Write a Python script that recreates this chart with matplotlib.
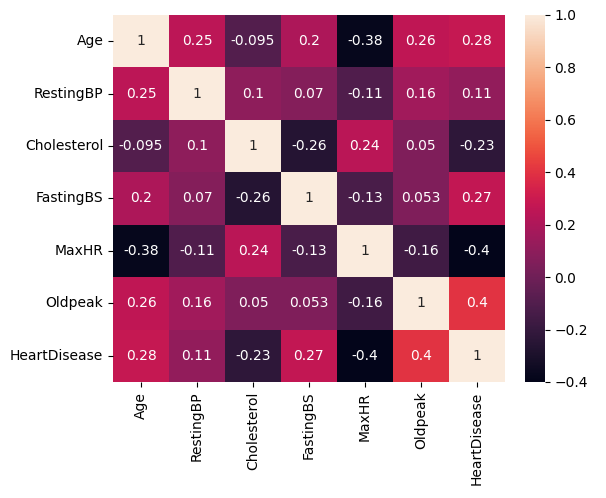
import matplotlib
matplotlib.use("Agg")
import matplotlib.pyplot as plt
import seaborn as sns
import numpy as np
import pandas as pd

labels = ["Age", "RestingBP", "Cholesterol", "FastingBS", "MaxHR", "Oldpeak", "HeartDisease"]
age = [1, 0.25, -0.095, 0.2, -0.38, 0.26, 0.28]
restingbp = [0.25, 1, 0.1, 0.07, -0.11, 0.16, 0.11]
cholesterol = [-0.095, 0.1, 1, -0.26, 0.24, 0.05, -0.23]
fastingbs = [0.2, 0.07, -0.26, 1, -0.13, 0.053, 0.27]
maxhr = [-0.38, -0.11, 0.24, -0.13, 1, -0.16, -0.4]
oldpeak = [0.26, 0.16, 0.05, 0.053, -0.16, 1, 0.4]
heartdisease = [0.28, 0.11, -0.23, 0.27, -0.4, 0.4, 1]

corr = pd.DataFrame([age, restingbp, cholesterol, fastingbs, maxhr, oldpeak, heartdisease],
                    index=labels, columns=labels)

fig = plt.figure(figsize=(6.06, 4.98), dpi=100)
ax = fig.add_axes([0.1865, 0.233, 0.6465, 0.737])
cax = fig.add_axes([0.866, 0.233, 0.033, 0.737])
sns.heatmap(corr, annot=True, ax=ax, cbar_ax=cax)
fig.savefig("out.png", dpi=100)
